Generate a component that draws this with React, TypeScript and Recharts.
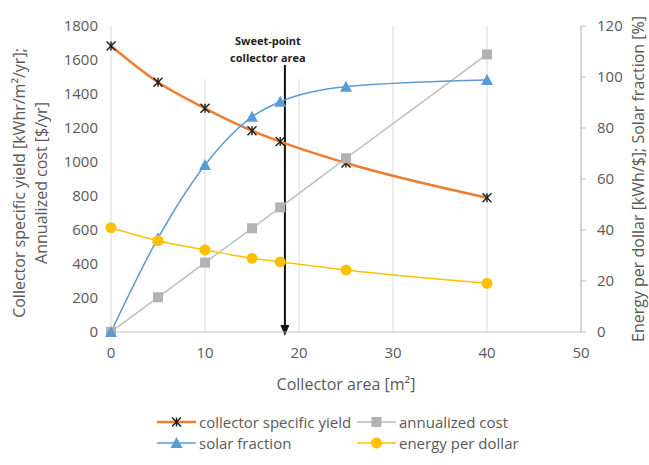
import { CartesianGrid, Label, Line, LineChart, ReferenceLine, XAxis, YAxis } from "recharts";

// collector area [m²] and the four series measured at each area
const AREA = [0, 5, 10, 15, 18, 25, 40];
const SPECIFIC_YIELD = [1682, 1469, 1316, 1184, 1120, 994, 790];
const ANNUAL_COST = [0, 204, 408, 610, 733, 1022, 1633];
const SOLAR_FRACTION = [0, 36.8, 65.5, 84.4, 90.3, 96.2, 98.8];
const ENERGY_PER_DOLLAR = [40.9, 35.8, 32.2, 28.9, 27.5, 24.3, 19.1];

const X_TICKS = [0, 10, 20, 30, 40, 50];
const LEFT_TICKS = [0, 200, 400, 600, 800, 1000, 1200, 1400, 1600, 1800];
const RIGHT_TICKS = [0, 20, 40, 60, 80, 100, 120];
const SWEET_POINT = 18.5;

const ORANGE = "#ED7D31";
const GRAY = "#BDBDBD";
const GRAY_MARK = "#B2B2B2";
const BLUE = "#5B9BD5";
const YELLOW = "#FFC000";
const TEXT = "#595959";
const FONT = "'Open Sans', sans-serif";

const data = AREA.map((a, i) => ({
  area: a,
  yield: SPECIFIC_YIELD[i],
  cost: ANNUAL_COST[i],
  solar: SOLAR_FRACTION[i],
  epd: ENERGY_PER_DOLLAR[i],
}));

const tick = { fill: TEXT, fontSize: 15, fontFamily: FONT };

function StarDot({ cx, cy }: any) {
  const r = 4.5;
  return (
    <g stroke="#1a1a1a" strokeWidth={1.4}>
      <line x1={cx - r} y1={cy - r} x2={cx + r} y2={cy + r} />
      <line x1={cx - r} y1={cy + r} x2={cx + r} y2={cy - r} />
      <line x1={cx} y1={cy - r} x2={cx} y2={cy + r} />
    </g>
  );
}

function SquareDot({ cx, cy }: any) {
  return <rect x={cx - 5} y={cy - 5} width={10} height={10} fill={GRAY_MARK} />;
}

function TriangleDot({ cx, cy }: any) {
  return <path d={`M${cx},${cy - 6} L${cx + 6},${cy + 5} L${cx - 6},${cy + 5} Z`} fill={BLUE} />;
}

function CircleDot({ cx, cy }: any) {
  return <circle cx={cx} cy={cy} r={5.5} fill={YELLOW} />;
}

// white text box behind the annotation, then the arrow pointing down to the axis
function Arrow({ x1, y1, x2, y2 }: any) {
  const tip = y2 + 4;
  return (
    <g>
      <rect x={x1 - 92} y={14} width={150} height={65} fill="#fff" />
      <line x1={x1} y1={y1} x2={x2} y2={tip - 8} stroke="#111" strokeWidth={2} />
      <path d={`M${x2 - 4.5},${tip - 11} L${x2 + 4.5},${tip - 11} L${x2},${tip} Z`} fill="#111" />
    </g>
  );
}

function SweetLabel({ viewBox }: any) {
  const cx = viewBox.x + viewBox.width / 2 - 17;
  return (
    <text textAnchor="middle" fontFamily={FONT} fontWeight={700} fontSize={11} fill="#222">
      <tspan x={cx} y={45}>Sweet-point</tspan>
      <tspan x={cx} y={62}>collector area</tspan>
    </text>
  );
}

function LeftTitle({ viewBox }: any) {
  const cy = viewBox.y + viewBox.height / 2 + 4;
  return (
    <text fontFamily={FONT} fontSize={16} fill={TEXT} textAnchor="middle" transform={`rotate(-90, 0, ${cy})`}>
      <tspan x={0} y={cy + 25}>Collector specific yield [kWhr/m²/yr];</tspan>
      <tspan x={0} y={cy + 47}>Annualized cost [$/yr]</tspan>
    </text>
  );
}

function RightTitle({ viewBox }: any) {
  const cy = viewBox.y + viewBox.height / 2;
  const x = 644;
  return (
    <text x={x} y={cy} fontFamily={FONT} fontSize={16} fill={TEXT} textAnchor="middle" transform={`rotate(-90, ${x}, ${cy})`}>
      Energy per dollar [kWh/$]; Solar fraction [%]
    </text>
  );
}

function BottomTitle({ viewBox }: any) {
  return (
    <text x={viewBox.x + viewBox.width / 2} y={390} fontFamily={FONT} fontSize={16} fill={TEXT} textAnchor="middle">
      Collector area [m²]
    </text>
  );
}

const LEGEND = [
  { name: "collector specific yield", color: ORANGE, Dot: StarDot, left: 157, top: 422, width: 2.5 },
  { name: "annualized cost", color: GRAY, Dot: SquareDot, left: 357, top: 422, width: 1.5 },
  { name: "solar fraction", color: BLUE, Dot: TriangleDot, left: 157, top: 443, width: 1.5 },
  { name: "energy per dollar", color: YELLOW, Dot: CircleDot, left: 357, top: 443, width: 1.5 },
];

export default function App() {
  return (
    <div style={{ position: "absolute", left: 0, top: 0, width: 649, height: 465, background: "#fff" }}>
      <LineChart width={649} height={465} data={data} margin={{ top: 26, right: 8, bottom: 103, left: 51 }}>
        <CartesianGrid stroke="#D9D9D9" verticalValues={X_TICKS} horizontalValues={LEFT_TICKS} />
        <XAxis
          type="number"
          dataKey="area"
          domain={[0, 50]}
          ticks={X_TICKS}
          height={30}
          tick={tick}
          tickLine={false}
          tickMargin={9}
          axisLine={{ stroke: "#BFBFBF" }}
        >
          <Label content={BottomTitle} />
        </XAxis>
        <YAxis
          yAxisId="left"
          domain={[0, 1800]}
          ticks={LEFT_TICKS}
          width={60}
          tick={tick}
          tickLine={false}
          axisLine={false}
          tickMargin={7}
        >
          <Label content={LeftTitle} />
        </YAxis>
        <YAxis
          yAxisId="right"
          orientation="right"
          domain={[0, 120]}
          ticks={RIGHT_TICKS}
          width={60}
          tick={tick}
          tickSize={5}
          tickMargin={11}
          tickLine={{ stroke: "#BFBFBF" }}
          axisLine={{ stroke: "#BFBFBF" }}
        >
          <Label content={RightTitle} />
        </YAxis>
        <ReferenceLine
          yAxisId="left"
          segment={[
            { x: SWEET_POINT, y: 1570 },
            { x: SWEET_POINT, y: 0 },
          ]}
          ifOverflow="visible"
          shape={Arrow}
          label={<SweetLabel />}
        />
        <Line
          yAxisId="left"
          type="monotone"
          dataKey="yield"
          stroke={ORANGE}
          strokeWidth={2.5}
          dot={StarDot}
          isAnimationActive={false}
        />
        <Line
          yAxisId="left"
          type="monotone"
          dataKey="cost"
          stroke={GRAY}
          strokeWidth={1.5}
          dot={SquareDot}
          isAnimationActive={false}
        />
        <Line
          yAxisId="right"
          type="monotone"
          dataKey="solar"
          stroke={BLUE}
          strokeWidth={1.5}
          dot={TriangleDot}
          isAnimationActive={false}
        />
        <Line
          yAxisId="right"
          type="monotone"
          dataKey="epd"
          stroke={YELLOW}
          strokeWidth={1.5}
          dot={CircleDot}
          isAnimationActive={false}
        />
      </LineChart>
      {LEGEND.map((item) => (
        <div
          key={item.name}
          style={{
            position: "absolute",
            left: item.left,
            top: item.top - 10,
            height: 20,
            display: "flex",
            alignItems: "center",
            fontFamily: FONT,
            fontSize: 15,
            color: TEXT,
            whiteSpace: "nowrap",
          }}
        >
          <svg width={39} height={20} style={{ marginRight: 3 }}>
            <line x1={0} y1={10} x2={39} y2={10} stroke={item.color} strokeWidth={item.width} />
            <item.Dot cx={19.5} cy={10} />
          </svg>
          {item.name}
        </div>
      ))}
    </div>
  );
}
